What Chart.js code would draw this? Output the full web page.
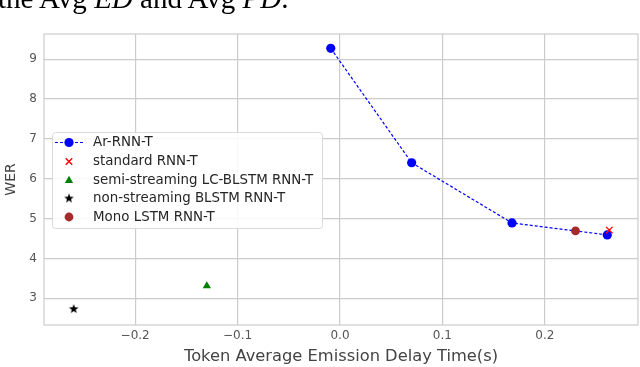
<!DOCTYPE html>
<html><head><meta charset="utf-8">
<script src="https://cdn.jsdelivr.net/npm/chart.js@4"></script>
<style>
html,body{margin:0;padding:0;background:#fff;overflow:hidden;width:640px;height:367px}
#wrap{position:absolute;left:0;top:0;width:640px;height:367px}
#cap{position:absolute;left:-2px;top:-16px;font-family:"Liberation Serif",serif;font-size:29px;white-space:nowrap;color:#000;line-height:29px}
</style></head><body>
<div id="wrap"><canvas id="c" width="640" height="367"></canvas></div>
<div id="cap">the Avg <i>ED</i> and Avg <i>PD</i>.</div>
<script>
// ---- data ----
const seriesLabels = ["Ar-RNN-T","standard RNN-T","semi-streaming LC-BLSTM RNN-T","non-streaming BLSTM RNN-T","Mono LSTM RNN-T"];
const arDelay = [-0.009, 0.07, 0.168, 0.261];
const arWER   = [9.27, 6.40, 4.89, 4.59];
const stdDelay = [0.263];  const stdWER = [4.71];
const semiDelay = [-0.13]; const semiWER = [3.31];
const nonDelay = [-0.26]; const nonWER = [2.73];
const monoDelay = [0.23]; const monoWER = [4.69];
const xTicks = [-0.2, -0.1, 0.0, 0.1, 0.2];
const yTicks = [3, 4, 5, 6, 7, 8, 9];
const xLabel = "Token Average Emission Delay Time(s)";
const yLabel = "WER";

function pts(xs, ys){ return xs.map((x,i)=>({x:x, y:ys[i]})); }

// filled star marker
function makeStar(r, color){
  const c = document.createElement('canvas');
  const s = Math.ceil(r*2+2); c.width = s; c.height = s;
  const g = c.getContext('2d'); g.fillStyle = color; g.beginPath();
  for(let i=0;i<10;i++){
    const rad = i%2===0 ? r : r*0.42;
    const a = -Math.PI/2 + i*Math.PI/5;
    const px = s/2 + rad*Math.cos(a), py = s/2 + rad*Math.sin(a);
    if(i===0) g.moveTo(px,py); else g.lineTo(px,py);
  }
  g.closePath(); g.fill();
  return c;
}
const starImg = makeStar(5, '#000');

const FONT = '"DejaVu Sans", sans-serif';
const datasets = [
  {label:seriesLabels[0], data:pts(arDelay,arWER), showLine:true, borderColor:'#0000ff', backgroundColor:'#0000ff',
   borderWidth:1.2, borderDash:[3,2], pointStyle:'circle', pointRadius:4.6, pointBorderWidth:0, order:1},
  {label:seriesLabels[1], data:pts(stdDelay,stdWER), showLine:false, borderColor:'#ff0000', backgroundColor:'#ff0000',
   pointStyle:'crossRot', pointRadius:4.6, pointBorderWidth:1.4, order:0},
  {label:seriesLabels[2], data:pts(semiDelay,semiWER), showLine:false, borderColor:'#008000', backgroundColor:'#008000',
   pointStyle:'triangle', pointRadius:4.8, pointBorderWidth:0, order:0},
  {label:seriesLabels[3], data:pts(nonDelay,nonWER), showLine:false, borderColor:'#000', backgroundColor:'#000',
   pointStyle:starImg, pointRadius:5, pointBorderWidth:0, order:0},
  {label:seriesLabels[4], data:pts(monoDelay,monoWER), showLine:false, borderColor:'#a52a2a', backgroundColor:'#a52a2a',
   pointStyle:'circle', pointRadius:4.4, pointBorderWidth:0, order:0}
];

const framePlugin = {
  id:'frame',
  beforeDatasetsDraw(chart){
    const a = chart.chartArea, g = chart.ctx;
    g.save(); g.strokeStyle = '#cccccc'; g.lineWidth = 1.2;
    g.strokeRect(a.left, a.top, a.right-a.left, a.bottom-a.top);
    g.restore();
  }
};

const legendPlugin = {
  id:'customLegend',
  afterDraw(chart){
    const g = chart.ctx;
    const bx = 52, by = 132, bw = 270, bh = 96;
    g.save();
    g.fillStyle = 'rgba(255,255,255,0.85)';
    g.strokeStyle = '#dadada'; g.lineWidth = 1;
    g.beginPath();
    if (g.roundRect) g.roundRect(bx+0.5, by+0.5, bw, bh, 3); else g.rect(bx+0.5, by+0.5, bw, bh);
    g.fill(); g.stroke();
    const rowY = [142.5, 161.5, 180.5, 198.5, 217];
    const mx = 69, tx = 93;
    g.font = '13.4px ' + FONT; g.textBaseline = 'middle'; g.textAlign = 'left';
    chart.data.datasets.forEach((ds, i) => {
      const y = rowY[i];
      if (ds.showLine){
        g.save(); g.strokeStyle = ds.borderColor; g.lineWidth = 1.2; g.setLineDash([3,2]);
        g.beginPath(); g.moveTo(55, y); g.lineTo(84, y); g.stroke(); g.restore();
      }
      g.save();
      g.fillStyle = ds.backgroundColor; g.strokeStyle = ds.borderColor;
      g.lineWidth = ds.pointBorderWidth || 0.0001;
      Chart.helpers.drawPoint(g, {pointStyle: ds.pointStyle, radius: ds.pointRadius, borderWidth: ds.pointBorderWidth, rotation:0}, mx, y);
      g.restore();
      g.fillStyle = '#262626';
      g.fillText(ds.label, tx, y+0.5);
    });
    g.restore();
  }
};

function fmtX(v){
  const s = Math.abs(v).toFixed(1);
  return (v < -1e-9 ? '\u2212' : '') + s;
}

new Chart(document.getElementById('c'), {
  type:'scatter',
  data:{datasets},
  options:{
    responsive:false, animation:false, devicePixelRatio:1,
    layout:{autoPadding:false, padding:{top:34, right:2, left:0, bottom:0}},
    plugins:{legend:{display:false}, tooltip:{enabled:false}},
    scales:{
      x:{type:'linear', min:-0.289, max:0.291,
         afterBuildTicks(s){ s.ticks = xTicks.map(v=>({value:v})); },
         afterFit(s){ s.height = 42; s.paddingLeft = 0; s.paddingRight = 0; },
         ticks:{callback:v=>fmtX(v), color:'#555', font:{family:FONT, size:12}, padding:4, maxRotation:0},
         grid:{color:'#cccccc', lineWidth:1.2, drawTicks:false},
         border:{display:false},
         title:{display:true, text:xLabel, color:'#444', font:{family:FONT, size:16.3}, padding:{top:0,bottom:0}}
      },
      y:{type:'linear', min:2.33, max:9.63,
         afterBuildTicks(s){ s.ticks = yTicks.map(v=>({value:v})); },
         afterFit(s){ s.width = 44; s.paddingTop = 0; s.paddingBottom = 0; },
         ticks:{callback:v=>String(v), color:'#555', font:{family:FONT, size:12}, padding:7},
         grid:{color:'#cccccc', lineWidth:1.2, drawTicks:false},
         border:{display:false},
         title:{display:true, text:yLabel, color:'#444', font:{family:FONT, size:14}, padding:{top:3,bottom:0}}
      }
    }
  },
  plugins:[framePlugin, legendPlugin]
});
</script>
</body></html>
